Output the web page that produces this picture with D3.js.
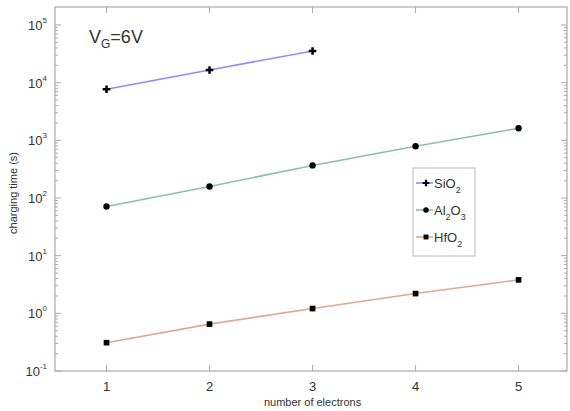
<!DOCTYPE html>
<html>
<head>
<meta charset="utf-8">
<script src="https://cdn.jsdelivr.net/npm/d3@7"></script>
<style>
  body { margin: 0; background: #fff; }
  text { font-family: "Liberation Sans", Arial, sans-serif; fill: #333; }
</style>
</head>
<body>
<div id="chart"></div>
<script>
// values
var electrons = [1, 2, 3, 4, 5];
var sio2  = [7700, 16600, 35300];
var al2o3 = [71, 158, 367, 790, 1620];
var hfo2  = [0.31, 0.65, 1.21, 2.2, 3.8];
var yDecades = [-1, 0, 1, 2, 3, 4, 5];

var series = [
  {name: "SiO", sub: "2", sub2: null, mid: null, values: sio2,  color: "#8c8cff", symbol: d3.symbolCross},
  {name: "Al", sub: "2", mid: "O", sub2: "3", values: al2o3, color: "#86c4a0", symbol: d3.symbolCircle},
  {name: "HfO", sub: "2", sub2: null, mid: null, values: hfo2,  color: "#e0a890", symbol: d3.symbolSquare}
];

var margin = {top: 7, right: 3, bottom: 40, left: 55},
    width = 570 - margin.left - margin.right,
    height = 411 - margin.top - margin.bottom;

var svg = d3.select("#chart")
  .append("svg")
    .attr("width", 570)
    .attr("height", 411)
  .append("g")
    .attr("transform", "translate(" + margin.left + "," + margin.top + ")");

var x = d3.scaleLinear().domain([0.5, 5.47]).range([0, width]);
var y = d3.scaleLog().domain([0.1, 2.05e5]).range([height, 0]);

var axisColor = "#aaa";

// minor log ticks
var minor = [];
yDecades.forEach(function(p) {
  for (var m = 2; m <= 9; m++) {
    var v = m * Math.pow(10, p);
    if (v < 2e5) minor.push(v);
  }
});

var ticks = svg.append("g");
// left + right major
yDecades.forEach(function(p) {
  var yy = y(Math.pow(10, p));
  ticks.append("line").attr("x1", 0).attr("x2", 6).attr("y1", yy).attr("y2", yy).attr("stroke", axisColor);
  ticks.append("line").attr("x1", width).attr("x2", width - 6).attr("y1", yy).attr("y2", yy).attr("stroke", axisColor);
  var t = ticks.append("text").attr("x", -8).attr("y", yy + 5)
    .attr("text-anchor", "end").style("font-size", "13px");
  t.append("tspan").text("10");
  t.append("tspan").attr("dy", -7).style("font-size", "8px").text(p);
});
minor.forEach(function(v) {
  var yy = y(v);
  ticks.append("line").attr("x1", 0).attr("x2", 3).attr("y1", yy).attr("y2", yy).attr("stroke", axisColor);
  ticks.append("line").attr("x1", width).attr("x2", width - 3).attr("y1", yy).attr("y2", yy).attr("stroke", axisColor);
});
// bottom + top
electrons.forEach(function(e) {
  var xx = x(e);
  ticks.append("line").attr("x1", xx).attr("x2", xx).attr("y1", height).attr("y2", height - 6).attr("stroke", axisColor);
  ticks.append("line").attr("x1", xx).attr("x2", xx).attr("y1", 0).attr("y2", 6).attr("stroke", axisColor);
  ticks.append("text").attr("x", xx).attr("y", height + 20)
    .attr("text-anchor", "middle").style("font-size", "13px").text(e);
});

svg.append("rect")
  .attr("width", width).attr("height", height)
  .attr("fill", "none").attr("stroke", axisColor).attr("stroke-width", 1.2);

var line = d3.line()
  .x(function(d, i) { return x(electrons[i]); })
  .y(function(d) { return y(d); });

series.forEach(function(s) {
  svg.append("path")
    .datum(s.values)
    .attr("d", line)
    .attr("fill", "none")
    .attr("stroke", s.color)
    .attr("stroke-width", 1.6);
  svg.selectAll(null)
    .data(s.values)
    .enter()
    .append("path")
      .attr("d", d3.symbol().type(s.symbol).size(32))
      .attr("transform", function(d, i) { return "translate(" + x(electrons[i]) + "," + y(d) + ")"; })
      .attr("fill", "#000");
});

// legend
var legend = svg.append("g").attr("transform", "translate(" + (413 - margin.left) + "," + (168 - margin.top) + ")");
legend.append("rect").attr("width", 62).attr("height", 88)
  .attr("fill", "#fff").attr("stroke", "#bbb");
series.forEach(function(s, i) {
  var ly = 15 + i * 27;
  legend.append("line").attr("x1", 3).attr("x2", 20).attr("y1", ly).attr("y2", ly)
    .attr("stroke", s.color).attr("stroke-width", 1.6);
  legend.append("path").attr("d", d3.symbol().type(s.symbol).size(24))
    .attr("transform", "translate(13," + ly + ")").attr("fill", "#000");
  var t = legend.append("text").attr("x", 21).attr("y", ly + 5).style("font-size", "13px");
  t.append("tspan").text(s.name);
  t.append("tspan").attr("dy", 5).style("font-size", "9px").text(s.sub);
  if (s.mid) {
    t.append("tspan").attr("dy", -5).text(s.mid);
    t.append("tspan").attr("dy", 5).style("font-size", "9px").text(s.sub2);
  }
});

// annotation
var vg = svg.append("text").attr("x", 89 - margin.left).attr("y", 43 - margin.top).style("font-size", "18px");
vg.append("tspan").text("V");
vg.append("tspan").attr("dy", 5).style("font-size", "12px").text("G");
vg.append("tspan").attr("dy", -5).text("=6V");

// axis labels
svg.append("text")
  .attr("x", x(3)).attr("y", height + 35)
  .attr("text-anchor", "middle").style("font-size", "11px")
  .text("number of electrons");
svg.append("text")
  .attr("transform", "translate(" + (17 - margin.left) + "," + (y(100) - 5) + ") rotate(-90)")
  .attr("text-anchor", "middle").style("font-size", "11px")
  .text("charging time (s)");
</script>
</body>
</html>
